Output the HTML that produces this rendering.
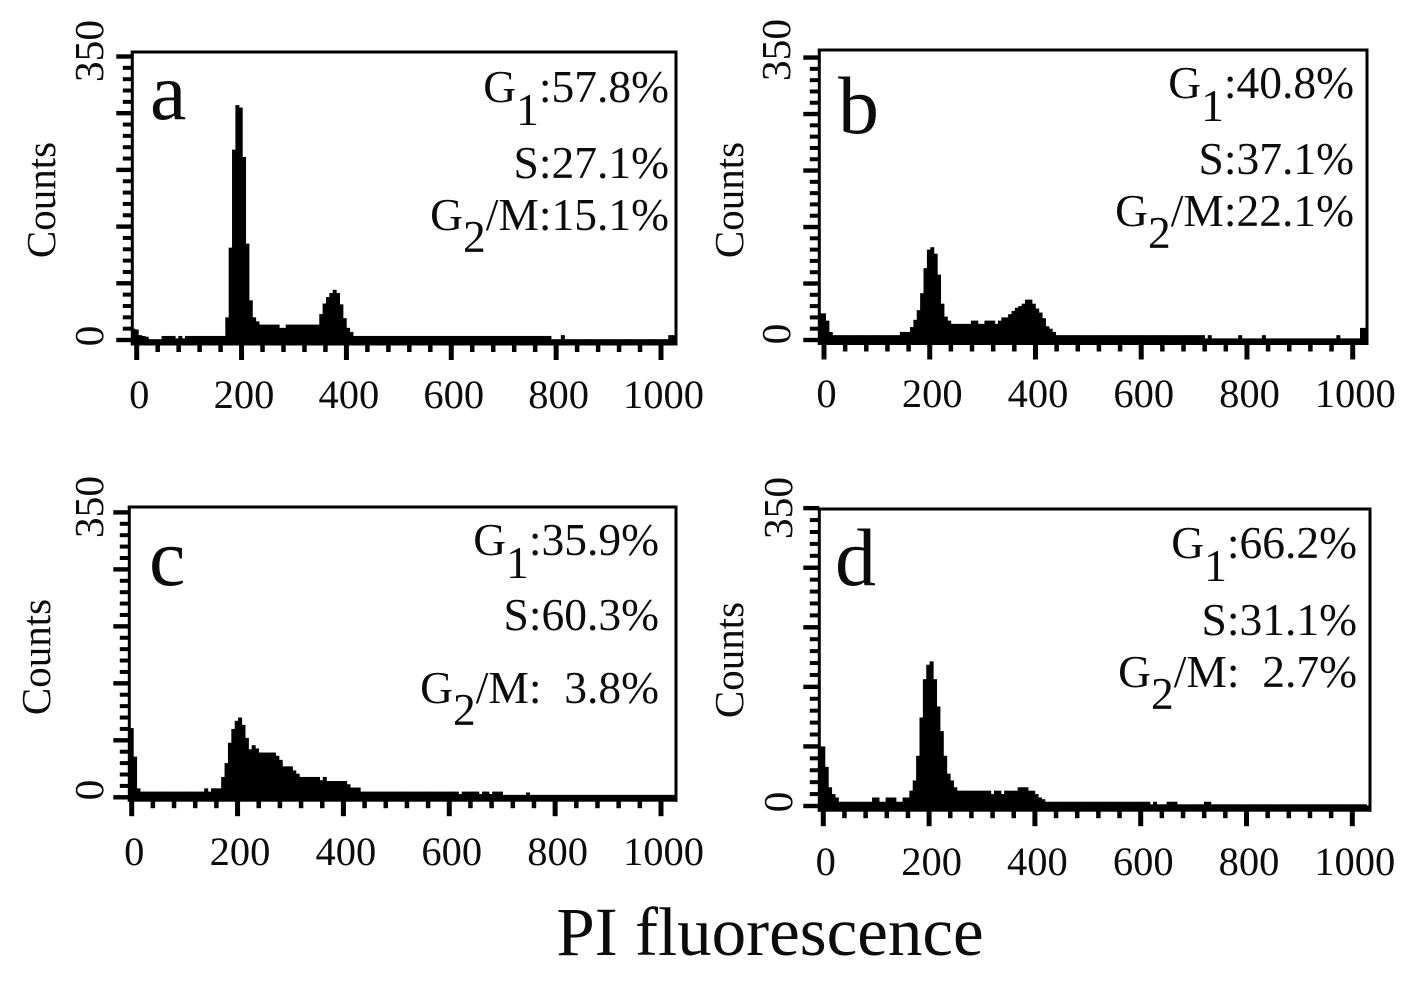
<!DOCTYPE html>
<html lang="en">
<head>
<meta charset="utf-8">
<title>PI fluorescence histograms</title>
<style>
html,body{margin:0;padding:0;background:#fff;}
svg{display:block;}
text{font-family:"Liberation Serif","Times New Roman",serif;fill:#0c0c0c;}
.tick-label{font-size:40.5px;text-anchor:middle;}
.y-label{font-size:41.5px;text-anchor:middle;}
.counts{font-size:41px;text-anchor:middle;}
.note{font-size:45.5px;text-anchor:end;}
.letter{font-size:82px;}
</style>
</head>
<body>
<svg id="chart" xmlns="http://www.w3.org/2000/svg" width="1417" height="990" viewBox="0 0 1417 990">
  <rect x="0" y="0" width="1417" height="990" fill="#fff"/>

  <text class="letter" x="150" y="119">a</text>
  <text class="letter" x="838" y="133">b</text>
  <text class="letter" x="149" y="585">c</text>
  <text class="letter" x="835" y="585">d</text>

  <text class="counts" transform="translate(55,200) rotate(-90)">Counts</text>
  <text class="counts" transform="translate(743,200) rotate(-90)">Counts</text>
  <text class="counts" transform="translate(50,657) rotate(-90)">Counts</text>
  <text class="counts" transform="translate(743,660) rotate(-90)">Counts</text>

  <text class="note" x="669" y="102">G<tspan dy="23">1</tspan><tspan dy="-23">:57.8%</tspan></text>
  <text class="note" x="669" y="178">S:27.1%</text>
  <text class="note" x="669" y="230">G<tspan dy="22">2</tspan><tspan dy="-22">/M:15.1%</tspan></text>

  <text class="note" x="1354" y="98">G<tspan dy="23">1</tspan><tspan dy="-23">:40.8%</tspan></text>
  <text class="note" x="1354" y="174">S:37.1%</text>
  <text class="note" x="1354" y="226">G<tspan dy="22">2</tspan><tspan dy="-22">/M:22.1%</tspan></text>

  <text class="note" x="659" y="555">G<tspan dy="23">1</tspan><tspan dy="-23">:35.9%</tspan></text>
  <text class="note" x="659" y="630">S:60.3%</text>
  <text class="note" x="659" y="703">G<tspan dy="22">2</tspan><tspan dy="-22">/M:&#160;&#160;3.8%</tspan></text>

  <text class="note" x="1357" y="558">G<tspan dy="23">1</tspan><tspan dy="-23">:66.2%</tspan></text>
  <text class="note" x="1357" y="635">S:31.1%</text>
  <text class="note" x="1357" y="687">G<tspan dy="22">2</tspan><tspan dy="-22">/M:&#160;&#160;2.7%</tspan></text>

  <text x="770" y="955" font-size="69" text-anchor="middle">PI fluorescence</text>
</svg>

<script>
// Shared axis data
const binWidth = 6.4;
const firstBin = -6.4;
const xTickLabels = [0, 200, 400, 600, 800, 1000];
const xMinorStep = 40;
const yTickLabels = [0, 350];
const yMajorStep = 70;
const yMinorStep = 14;

// Histogram counts per channel bin (162 bins)
const countsA = [
  14,13,6,5,4,1,1,1,1,5,
  5,5,5,2,5,2,5,5,5,5,
  5,5,5,5,5,5,5,5,28,114,
  235,290,287,226,119,49,28,23,19,19,
  19,19,19,19,15,15,19,19,19,19,
  19,19,19,19,19,19,32,45,53,58,
  62,58,44,27,15,10,5,5,5,5,
  5,5,5,5,5,5,5,5,5,5,
  5,5,5,5,5,5,5,5,5,5,
  5,5,5,5,5,5,5,5,5,5,
  5,5,5,5,5,5,5,5,5,5,
  5,5,5,5,5,5,5,5,5,5,
  5,5,5,5,5,1,1,1,6,1,
  1,1,1,1,1,1,1,1,1,1,
  1,1,1,1,1,1,1,1,1,1,
  1,1,1,1,1,1,1,1,1,1,
  6,6
];
const countsB = [
  33,33,24,10,6,6,6,6,6,6,
  6,6,6,6,6,6,6,6,6,6,
  6,6,6,6,10,10,10,16,25,37,
  58,89,112,115,107,81,45,29,24,20,
  20,20,20,20,20,24,24,20,20,24,
  24,24,20,24,28,28,32,36,40,42,
  45,50,50,45,39,34,27,17,14,10,
  6,6,6,6,6,6,6,6,6,6,
  6,6,6,6,6,6,6,6,6,6,
  6,6,6,6,6,6,6,6,6,6,
  6,6,6,6,6,6,6,6,6,6,
  6,6,6,6,2,6,2,2,2,2,
  2,2,2,2,6,2,2,2,2,2,
  2,6,2,2,2,2,2,2,2,2,
  2,2,2,2,2,2,2,2,2,2,
  2,2,2,6,2,2,2,2,2,2,
  15,15
];
const countsC = [
  85,85,50,11,7,7,7,7,7,7,
  7,7,7,7,7,7,7,7,7,7,
  7,7,7,11,7,11,11,11,25,42,
  67,84,94,98,89,73,59,64,60,55,
  55,55,55,55,51,46,38,38,38,33,
  29,25,25,25,25,25,25,21,25,20,
  20,20,20,20,20,16,12,12,12,7,
  7,7,7,7,7,7,7,7,7,7,
  7,7,7,7,7,7,7,7,7,7,
  7,7,7,7,7,7,7,7,4,7,
  7,7,7,7,4,7,7,4,7,7,
  7,3,3,3,3,3,3,3,6,3,
  3,3,3,3,3,3,3,3,3,3,
  3,3,3,3,3,3,3,3,3,3,
  3,3,3,3,3,3,3,3,3,3,
  3,3,3,3,3,3,3,3,3,3,
  3,3
];
const countsD = [
  70,70,46,22,14,10,5,5,5,5,
  5,5,5,5,5,5,10,10,5,5,
  10,10,10,5,5,10,10,18,30,59,
  104,149,166,170,149,117,88,59,38,30,
  22,18,18,18,18,18,18,18,18,18,
  18,14,18,18,14,18,18,18,18,22,
  22,22,18,18,14,10,8,5,5,5,
  5,5,5,5,5,5,5,5,5,5,
  5,5,5,5,5,5,5,5,5,5,
  5,5,5,5,5,5,5,5,2,5,
  2,2,2,5,5,5,2,2,2,2,
  2,2,2,2,5,5,2,2,2,2,
  2,2,2,2,2,2,2,2,2,2,
  2,2,2,2,2,2,2,2,2,2,
  2,2,2,2,2,2,2,2,2,2,
  2,2,2,2,2,2,2,2,2,2,
  2,2
];

const SVG_NS = "http://www.w3.org/2000/svg";
const root = document.getElementById("chart");

function rect(parent, x, y, w, h, name) {
  const el = document.createElementNS(SVG_NS, "rect");
  el.setAttribute("x", x);
  el.setAttribute("y", y);
  el.setAttribute("width", w);
  el.setAttribute("height", h);
  el.setAttribute("fill", "#000");
  
  
  parent.appendChild(el);
  return el;
}

function label(parent, cls, str, x, y, rotate, name) {
  const el = document.createElementNS(SVG_NS, "text");
  el.setAttribute("class", cls);
  if (rotate) {
    el.setAttribute("transform", "translate(" + x + "," + y + ") rotate(-90)");
  } else {
    el.setAttribute("x", x);
    el.setAttribute("y", y);
  }
  el.textContent = str;
  
  
  parent.appendChild(el);
  return el;
}

function drawPanel(id, counts, g) {
  const group = document.createElementNS(SVG_NS, "g");
  
  
  root.appendChild(group);

  const xScale = function (v) { return g.tick0 + g.kx * v; };
  const yScale = function (c) { return g.y0 - g.ky * c; };
  const barW = binWidth * g.kx;

  // bars (slight overlap so neighbouring bars merge into a solid silhouette)
  counts.forEach(function (c, i) {
    const center = xScale(firstBin + i * binWidth);
    const left = Math.max(center - barW / 2 - 0.3, g.left);
    const right = Math.min(center + barW / 2 + 0.3, g.right);
    if (right <= left) return;
    rect(group, left, yScale(c), right - left, g.y0 - yScale(c) + 2, 'histogram-bar');
  });

  // frame
  rect(group, g.left - 1.5, g.top - 1.5, g.right - g.left + 3, 3, 'frame-top');
  rect(group, g.right - 1.5, g.top - 1.5, 3, g.bottom - g.top + 1.5, 'frame-right');
  rect(group, g.left - 1.5, g.top - 1.5, 3, g.bottom - g.top + 1.5, 'y-axis-line');
  rect(group, g.left - 1.5, g.y0 - 0.5, g.right - g.left + 3, g.bottom - g.y0 + 0.5, 'x-axis-line');

  // x ticks
  const xMax = xTickLabels[xTickLabels.length - 1];
  for (let v = 0; v <= xMax; v += xMinorStep) {
    const major = xTickLabels.indexOf(v) >= 0;
    const w = major ? 5 : 4.5;
    const len = major ? 15 : 7;
    rect(group, xScale(v) - w / 2, g.bottom - 0.5, w, len, major ? 'x-major-tick' : 'x-minor-tick');
  }
  xTickLabels.forEach(function (t) {
    label(group, 'tick-label', String(t), xScale(t) + 2.5, g.labelY, false, 'x-tick-label-' + t);
  });

  // y ticks
  const yMax = yTickLabels[yTickLabels.length - 1];
  for (let c = 0; c <= yMax; c += yMinorStep) {
    const major = c % yMajorStep === 0;
    const len = major ? 16 : 9.5;
    const h = major ? 4.4 : 4;
    rect(group, g.left - len, yScale(c) - h / 2, len, h, major ? 'y-major-tick' : 'y-minor-tick');
  }
  yTickLabels.forEach(function (t) {
    const cy = t === 0 ? g.zeroLabelY : g.maxLabelY;
    label(group, 'y-label', String(t), g.yLabelX, cy, true, 'y-tick-label-' + t);
  });
}

drawPanel('a', countsA, {left:132.3, top:52, right:676, bottom:345.5, tick0:136.7, kx:0.5243, y0:340, ky:0.81, labelY:408, yLabelX:103, zeroLabelY:336, maxLabelY:51});
drawPanel('b', countsB, {left:819.3, top:50, right:1367, bottom:345, tick0:824, kx:0.5287, y0:340, ky:0.807, labelY:407, yLabelX:790, zeroLabelY:334, maxLabelY:50});
drawPanel('c', countsC, {left:129.3, top:507, right:676, bottom:801.7, tick0:131.7, kx:0.5293, y0:797.3, ky:0.814, labelY:865, yLabelX:103, zeroLabelY:790, maxLabelY:507});
drawPanel('d', countsD, {left:819.3, top:509, right:1370, bottom:811.7, tick0:823.3, kx:0.529, y0:806, ky:0.851, labelY:875, yLabelX:792, zeroLabelY:802, maxLabelY:508});
</script>
</body>
</html>
